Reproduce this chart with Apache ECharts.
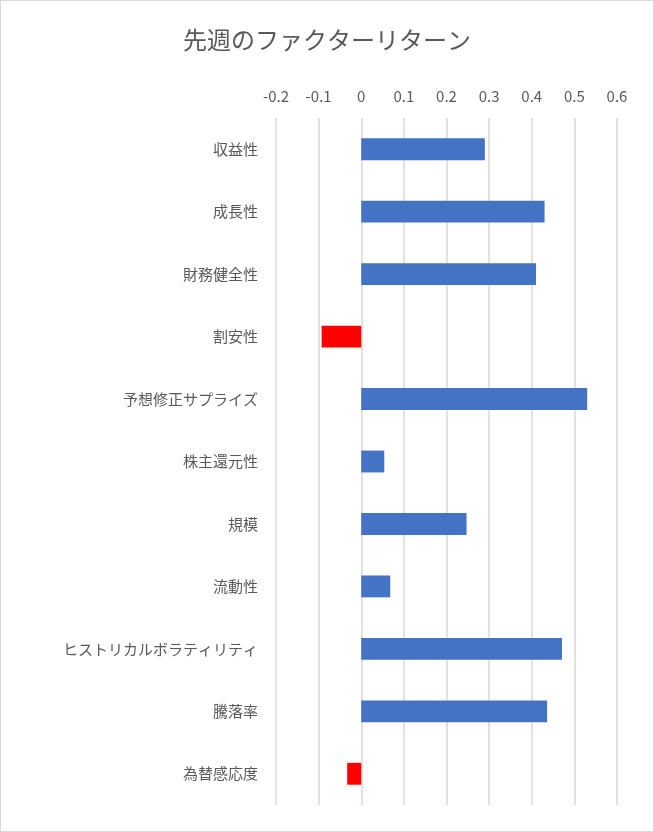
<!DOCTYPE html>
<html><head><meta charset="utf-8">
<script src="https://cdn.jsdelivr.net/npm/echarts@6/dist/echarts.min.js"></script>
<style>html,body{margin:0;padding:0;background:#fff}#c{width:654px;height:832px;box-sizing:border-box;border:1px solid #d9d9d9}</style>
</head><body><div id="c"></div>
<script>
const categories = ["収益性", "成長性", "財務健全性", "割安性", "予想修正サプライズ", "株主還元性", "規模", "流動性", "ヒストリカルボラティリティ", "騰落率", "為替感応度"];
const values = [0.29, 0.43, 0.41, -0.093, 0.53, 0.054, 0.247, 0.068, 0.471, 0.436, -0.033];

const chart = echarts.init(document.getElementById("c"));
const font = "'Noto Sans CJK JP', sans-serif";
chart.setOption({
    animation: false,
    title: {
        text: "先週のファクターリターン", left: "center", top: 22,
        textStyle: { color: "#595959", fontSize: 24, fontWeight: "normal", fontFamily: font }
    },
    grid: { left: 275, right: 36, top: 117, bottom: 26 },
    xAxis: {
        type: "value", position: "top", min: -0.2, max: 0.6, interval: 0.1,
        axisLabel: { color: "#595959", fontSize: 15, fontFamily: font, margin: 14,
            formatter: v => String(Math.round(v * 10) / 10) },
        axisLine: { show: false }, axisTick: { show: false },
        splitLine: { lineStyle: { color: "#d9d9d9", width: 1.5 } }
    },
    yAxis: {
        type: "category", inverse: true, data: categories,
        axisLine: { show: false }, axisTick: { show: false },
        axisLabel: { color: "#595959", fontSize: 15, fontFamily: font, margin: 18 }
    },
    series: [{
        type: "bar", data: values, barWidth: "35%",
        itemStyle: { color: p => p.value < 0 ? "#FF0000" : "#4472C4" }
    }]
});
</script></body></html>
